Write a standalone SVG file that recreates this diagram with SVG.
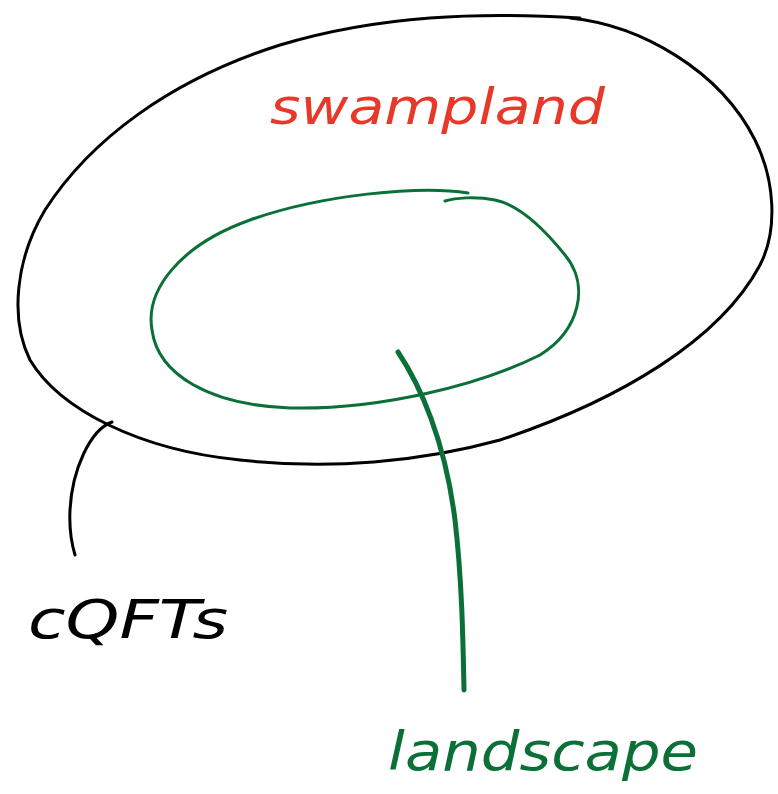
<svg xmlns="http://www.w3.org/2000/svg" width="778" height="794" viewBox="0 0 778 794">
<style>
.stroke{fill:none;stroke-linecap:round;stroke-linejoin:round}
.blk{stroke:#000;stroke-width:3}
.grn{stroke:#0a7038;stroke-width:3}
.thick{stroke-width:5}
.lbl{font-family:"DejaVu Sans","Liberation Sans",sans-serif;font-style:italic}
</style>
<rect width="778" height="794" fill="#fff"/>
<g id="swampland">
<path class="stroke blk" d="M570,18 C640,25 720,70 755,140 C775,180 778,230 760,265 C720,340 620,400 500,440 C420,462 330,470 240,460 C140,450 60,410 30,360 C10,320 15,260 45,210 C90,140 170,80 280,45 C380,15 480,12 580,18"/>
<text class="lbl" x="270" y="124" font-size="50" fill="#e8382a" textLength="335" lengthAdjust="spacingAndGlyphs">swampland</text>
</g>
<g id="landscape">
<path class="stroke grn" d="M468,193 C420,185 320,195 250,220 C180,245 145,290 152,330 C158,375 210,405 290,408 C380,410 480,385 540,355 C580,330 590,285 565,255 C545,230 520,205 495,200 C475,196 455,198 445,201"/>
<text class="lbl" x="388" y="770" font-size="54" fill="#0a7038" textLength="310" lengthAdjust="spacingAndGlyphs">landscape</text>
</g>
<g id="cqfts">
<text class="lbl" x="28" y="638" font-size="54" fill="#000" textLength="200" lengthAdjust="spacingAndGlyphs">cQFTs</text>
</g>
<g id="connectors">
<path class="stroke blk" d="M112,422 C90,430 72,470 70,510 C69,530 72,545 75,555"/>
<path class="stroke grn thick" d="M398,352 C420,385 445,440 455,520 C462,580 463,640 464,690"/>
</g>
</svg>
